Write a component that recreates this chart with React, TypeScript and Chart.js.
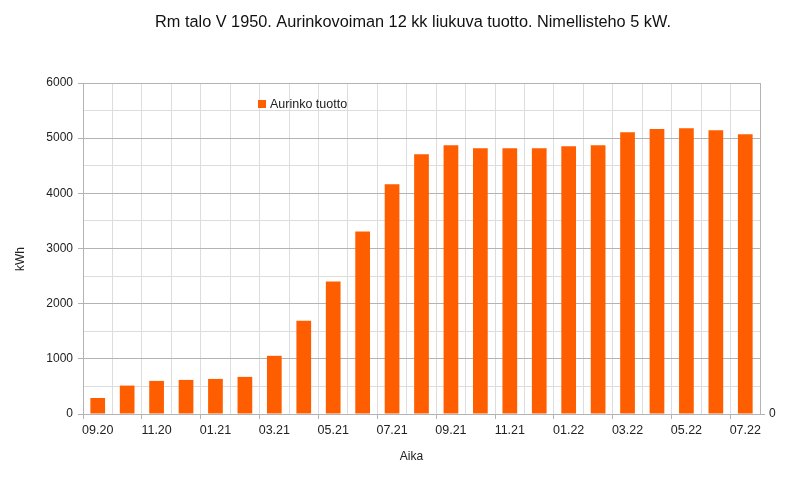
import { useEffect, useRef } from "react"
import { Chart, registerables } from "chart.js"

Chart.register(...registerables)

const months = [
  "09.20", "10.20", "11.20", "12.20", "01.21", "02.21", "03.21", "04.21",
  "05.21", "06.21", "07.21", "08.21", "09.21", "10.21", "11.21", "12.21",
  "01.22", "02.22", "03.22", "04.22", "05.22", "06.22", "07.22",
]
const production = [
  290, 515, 600, 618, 636, 673, 1055, 1691, 2400, 3309, 4164, 4709,
  4873, 4818, 4818, 4818, 4855, 4873, 5109, 5164, 5182, 5145, 5073,
]

const TITLE = "Rm talo V 1950. Aurinkovoiman 12 kk liukuva tuotto. Nimellisteho 5 kW."
const SERIES = "Aurinko tuotto"
const X_TITLE = "Aika"
const Y_TITLE = "kWh"
const ORANGE = "#ff5e00"
const FONT = "'Liberation Sans', Arial, sans-serif"

export default function App() {
  const canvasRef = useRef<HTMLCanvasElement>(null)
  const chartRef = useRef<Chart | null>(null)

  useEffect(() => {
    document.body.style.margin = "0"
    if (!canvasRef.current) return
    const ctx = canvasRef.current.getContext("2d")
    if (!ctx) return

    if (chartRef.current) chartRef.current.destroy()

    // title, axis titles and the in-plot legend, placed like the original
    const decorations = {
      id: "decorations",
      afterDraw(chart: Chart) {
        const c = chart.ctx
        c.save()
        c.textBaseline = "middle"
        c.textAlign = "center"

        c.fillStyle = "#111"
        c.font = `16.3px ${FONT}`
        c.fillText(TITLE, 413, 23)

        c.fillStyle = "#222"
        c.font = `12px ${FONT}`
        c.fillText(X_TITLE, 411.5, 457)

        c.save()
        c.translate(20.5, 259)
        c.rotate(-Math.PI / 2)
        c.fillText(Y_TITLE, 0, 0)
        c.restore()

        c.fillStyle = ORANGE
        c.fillRect(258, 100, 8, 8)
        c.fillStyle = "#222"
        c.font = `12.5px ${FONT}`
        c.textAlign = "left"
        c.fillText(SERIES, 270, 104.5)
        c.restore()
      },
    }

    chartRef.current = new Chart(ctx, {
      type: "bar",
      data: {
        labels: months,
        datasets: [
          {
            label: SERIES,
            data: production,
            backgroundColor: ORANGE,
            borderWidth: 0,
            categoryPercentage: 1,
            barPercentage: 0.5,
            yAxisID: "y",
          },
        ],
      },
      options: {
        responsive: false,
        animation: false,
        layout: { padding: { top: 83, left: 0, right: 0, bottom: 0 } },
        plugins: {
          legend: { display: false },
          title: { display: false },
          tooltip: { enabled: false },
        },
        scales: {
          x: {
            offset: true,
            grid: {
              offset: true,
              color: "#dddddd",
              tickLength: 5,
              tickColor: (c: any) => (c.index % 2 === 0 ? "#b3b3b3" : "rgba(0,0,0,0)"),
            },
            border: { color: "#b3b3b3" },
            ticks: {
              autoSkip: false,
              maxRotation: 0,
              padding: 4,
              color: "#222",
              font: { family: FONT, size: 12.5 },
              callback: (_v: any, i: number) => (i % 2 === 0 ? months[i] : ""),
            },
            afterFit: (s: any) => {
              s.height = 64
            },
          },
          y: {
            position: "left",
            min: 0,
            max: 6000,
            grid: {
              color: (c: any) => (c.tick && c.tick.value % 1000 === 0 ? "#b3b3b3" : "#dddddd"),
              tickLength: 5,
              tickColor: (c: any) =>
                c.tick && c.tick.value % 1000 === 0 ? "#b3b3b3" : "rgba(0,0,0,0)",
            },
            border: { color: "#b3b3b3" },
            ticks: {
              stepSize: 500,
              padding: 5,
              color: "#222",
              font: { family: FONT, size: 12 },
              callback: (v: any) => (Number(v) % 1000 === 0 ? String(v) : ""),
            },
            afterFit: (s: any) => {
              s.width = 83
            },
          },
          y2: {
            position: "right",
            min: 0,
            max: 6000,
            grid: { drawOnChartArea: false, tickLength: 5, tickColor: "#b3b3b3" },
            border: { color: "#b3b3b3" },
            ticks: {
              padding: 4,
              color: "#222",
              font: { family: FONT, size: 12 },
            },
            afterBuildTicks: (axis: any) => {
              axis.ticks = [{ value: 0 }]
            },
            afterFit: (s: any) => {
              s.width = 26
            },
          },
        },
      },
      plugins: [decorations],
    })

    return () => {
      if (chartRef.current) {
        chartRef.current.destroy()
        chartRef.current = null
      }
    }
  }, [])

  return (
    <div style={{ width: 786, height: 478 }}>
      <canvas ref={canvasRef} width={786} height={478}></canvas>
    </div>
  )
}
